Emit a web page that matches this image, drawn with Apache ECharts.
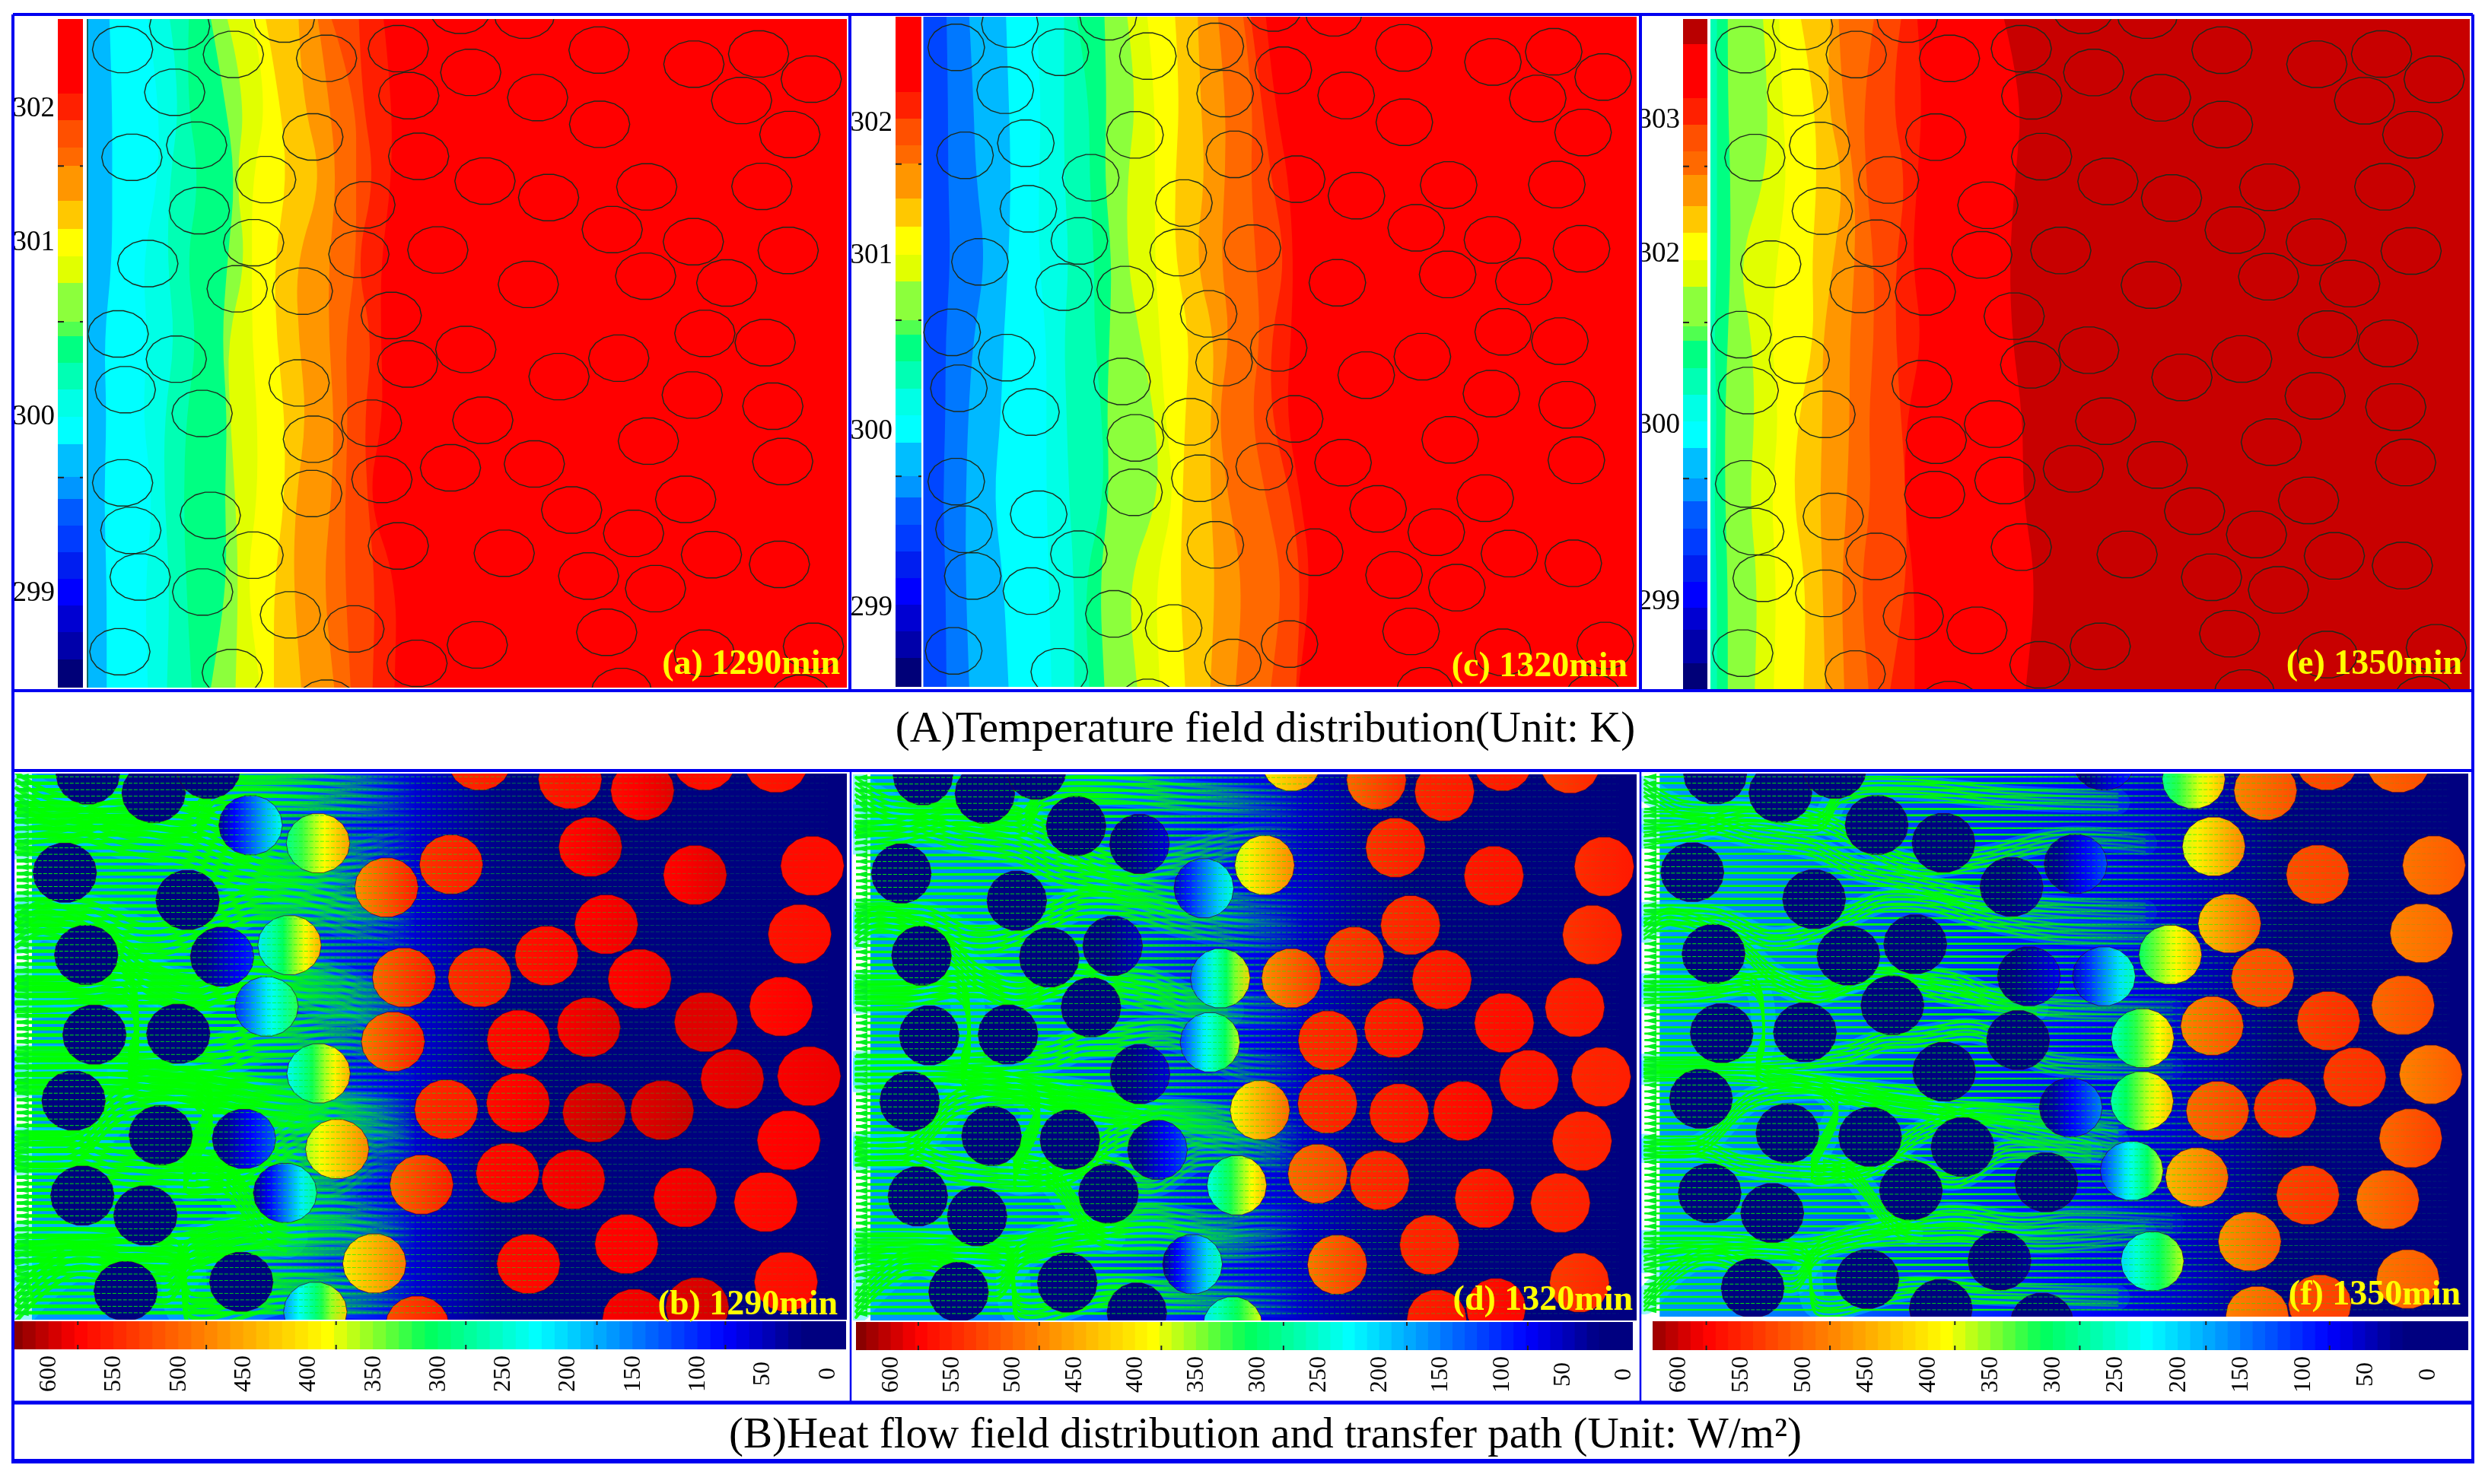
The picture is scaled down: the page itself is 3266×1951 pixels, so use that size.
<!DOCTYPE html>
<html><head><meta charset="utf-8">
<style>html,body{margin:0;padding:0;background:#fff}#c{width:3266px;height:1951px}</style>
<script src="https://cdn.jsdelivr.net/npm/echarts@6/dist/echarts.min.js"></script>
</head><body><div id="c"></div>
<script>
// ---------- DATA: temperature panels (read in the crop units of panel a) ----------
const tempCircleX=[224,328,426,519,596,727,840,957,1093,1266,1384,1480,1353,1441,1094,981,859,746,319,359,241,571,764,485,885,1001,1180,1390,666,364,1117,463,1265,1438,270,655,799,1178,1326,433,552,964,714,216,322,1286,1396,850,744,1129,1020,229,546,1263,1410,369,678,881,572,1183,975,1428,224,697,822,569,1251,384,1043,239,1156,727,462,920,1298,1422,1074,256,370,1196,530,646,219,1107,871,761,1285,1484,424,1134,1461,596];
const tempCircleY=[103,55,113,40,121,101,22,32,104,133,112,164,208,278,257,202,150,198,191,300,325,283,323,371,374,408,386,385,423,435,474,501,499,517,544,525,516,570,584,596,601,587,651,689,741,688,707,721,751,739,777,804,790,815,838,853,873,867,906,910,957,952,996,989,965,1018,1030,1063,1052,1094,1100,1126,1145,1141,1144,1164,1188,1190,1221,1214,1268,1297,1344,1304,1330,1368,1347,1333,1387,1426,1440,1450];
const contourRows=[40,200,370,540,700,860,1030,1200,1418];
const bandPalette=['#0046FF','#0078FF','#00B9FF','#00FFFF','#00FFE6','#00FFB4','#00FF82','#8CFF3C','#E1FF00','#FFFF00','#FFC800','#FF9600','#FF6900','#FF4600','#FF1E00','#FF0000','#C80000'];
const contoursA=[
[200,205,205,205,190,195,190,195,195],[270,290,290,260,270,260,280,265,270],[310,330,310,305,320,300,300,310,305],
[345,340,365,340,360,340,335,340,350],[385,410,430,415,405,415,410,415,385],[415,450,430,450,415,420,430,435,430],
[460,490,460,460,460,470,470,450,475],[485,510,525,500,505,520,520,500,500],[545,550,590,540,545,560,540,535,550],
[580,600,615,600,600,610,605,590,610],[605,650,650,650,630,635,630,630,640],[655,660,685,650,680,665,670,685,680],[700,715,715,695,695,700,670,725,720]];
const contoursC=[
[187,190,190,195,185,185,180,185,187],[232,240,245,265,240,230,225,225,232],[305,310,315,310,300,295,280,300,310],
[365,375,370,370,385,385,385,390,395],[420,420,420,430,420,425,430,440,440],[445,470,470,480,480,495,500,460,470],
[500,505,500,515,510,505,510,490,500],[545,565,545,545,570,600,610,545,565],[585,600,600,600,610,620,640,600,610],
[640,650,640,640,670,660,655,650,660],[685,690,700,680,720,710,710,720,710],[725,740,740,730,750,725,745,775,760],
[775,795,790,800,810,790,820,855,830],[790,810,830,860,830,830,870,890,880],[820,835,865,875,870,860,890,910,885]];
const contoursE=[
[150,150,150,150,145,150,145,150,150],[170,170,175,175,170,165,165,170,170],[235,245,240,190,215,220,210,225,220],
[265,270,280,260,250,265,250,260,255],[305,330,335,325,330,300,290,315,310],[360,350,385,365,345,345,340,345,350],
[375,380,405,405,395,395,390,380,385],[440,420,425,440,440,430,435,415,430],[490,470,500,480,480,490,500,500,470],
[520,530,520,510,530,500,495,515,515],[680,715,700,690,695,715,715,740,720]];
const tempBarColors=['#FF0000','#FF2000','#FF5000','#FF6900','#FF9600','#FFC800','#FFFF00','#E1FF00','#8CFF3C','#50FF50','#00FF82','#00FFB4','#00FFE6','#00FFFF','#00BEFF','#0096FF','#005AFF','#003CFF','#001EF0','#0000FF','#0000D2','#0000AA','#000078'];
const tempBarEdges=[40,195,250,305,343,415,473,530,585,665,695,750,805,860,917,985,1030,1085,1140,1195,1250,1305,1360,1418];
const tempBarColorsE=['#B90000','#FF0000','#FF2000','#FF5000','#FF6900','#FF9600','#FFC800','#FFFF00','#E1FF00','#8CFF3C','#50FF50','#00FF82','#00FFB4','#00FFE6','#00FFFF','#00BEFF','#0096FF','#005AFF','#003CFF','#001EF0','#0000FF','#0000D2','#0000AA','#000078'];
const tempBarEdgesE=[40,93,203,258,313,361,425,481,536,591,673,703,758,813,868,923,985,1033,1089,1144,1199,1252,1297,1366,1418];
const tempBarMarks=[343,664,985];
const tempLabelsA={226:'302',501:'301',861:'300',1224:'299'};
const tempLabelsC={259:'302',532:'301',893:'300',1256:'299'};
const tempLabelsE={249:'303',523:'302',876:'300',1238:'299'};

// ---------- DATA: heat-flow panels (read in the crop units of panel b) ----------
const fluxCircleX=[160,280,380,457,580,118,342,705,823,1040,1172,1077,1268,1482,1416,1285,875,157,405,528,737,875,997,1106,1167,1459,486,172,325,717,946,1074,1288,1425,581,134,814,945,1084,1208,1336,1476,293,445,615,1439,150,265,520,769,926,1046,1250,1397,1143,683,964,440,229,1434,575,761,1157,1272];
const fluxCircleY=[30,70,18,140,179,243,302,275,225,40,65,187,248,228,5,0,0,421,425,400,470,470,423,355,473,376,533,594,592,609,605,578,567,533,678,737,756,742,763,758,690,684,812,820,842,823,943,986,937,919,894,908,947,957,1048,1090,1091,1130,1150,1130,1195,1225,1210,1185];
const circleFluxB=[[0,5],[0,5],[0,5],[30,230],[280,460],[0,5],[0,5],[470,560],[540,560],[560,570],[570,590],[570,590],[575,590],[570,570],[560,570],[570,570],[550,560],[0,5],[0,100],[210,450],[500,560],[545,560],[565,575],[575,585],[575,585],[565,570],[100,320],[0,5],[0,5],[490,560],[570,580],[580,590],[590,590],[570,580],[220,450],[0,5],[545,560],[570,585],[590,600],[590,600],[585,590],[580,585],[0,5],[0,130],[360,480],[575,580],[0,5],[0,5],[10,280],[500,560],[570,580],[580,585],[580,585],[570,575],[575,580],[400,490],[570,575],[0,5],[0,5],[565,570],[160,420],[520,560],[580,585],[590,595]];
const circleFluxD=[[0,5],[0,5],[0,5],[0,5],[0,60],[0,5],[0,5],[50,240],[370,480],[500,550],[550,560],[540,560],[560,565],[545,560],[530,550],[555,560],[400,470],[0,5],[0,5],[0,50],[130,420],[470,540],[530,550],[545,555],[555,565],[540,555],[0,5],[0,5],[0,5],[110,370],[545,555],[555,565],[565,570],[555,560],[0,60],[0,5],[390,500],[545,555],[555,565],[565,575],[560,565],[550,555],[0,5],[0,5],[0,120],[550,555],[0,5],[0,5],[0,5],[230,440],[500,530],[545,555],[555,565],[550,555],[550,555],[20,260],[490,540],[0,5],[0,5],[535,550],[0,5],[210,380],[555,565],[565,575]];
const circleFluxF=[[0,5],[0,5],[0,5],[0,5],[0,5],[0,5],[0,5],[0,40],[0,120],[280,440],[480,520],[370,480],[520,530],[490,510],[500,520],[520,530],[0,100],[0,5],[0,5],[0,5],[0,70],[50,260],[300,450],[430,510],[510,525],[480,500],[0,5],[0,5],[0,5],[0,5],[250,430],[480,520],[530,545],[500,520],[0,5],[0,5],[0,150],[260,440],[500,530],[540,550],[535,545],[480,510],[0,5],[0,5],[0,5],[500,530],[0,5],[0,5],[0,5],[0,5],[100,370],[440,500],[530,540],[490,520],[470,510],[0,30],[200,370],[0,5],[0,5],[490,510],[0,5],[0,5],[480,510],[520,530]];
const bgX=[58,200,400,500,600,700,800,900,1000,1100,1200,1545];
const bgFluxB=[165,160,135,115,92,72,48,25,12,5,0,0];
const bgFluxD=[165,160,140,125,108,90,72,52,32,12,0,0];
const bgFluxF=[165,155,135,120,108,96,85,72,58,38,8,0];
const flowRows=[35,49,63,77,91,105,119,133,147,161,175,189,203,217,231,245,259,273,287,301,315,329,343,357,371,385,399,413,427,441,455,469,483,497,511,525,539,553,567,581,595,609,623,637,651,665,679,693,707,721,735,749,763,777,791,805,819,833,847,861,875,889,903,917,931,945,959,973,987,1001,1015,1029,1043,1057,1071,1085,1099,1113,1127,1141,1155,1169,1183,1197];
const flowRoutes=[
[[30,130],[140,135],[230,165],[340,190],[420,235],[520,265],[640,300],[780,320],[950,330]],
[[30,165],[120,150],[220,120],[350,135],[395,70],[520,60],[700,80],[900,90]],
[[30,335],[160,340],[270,390],[400,340],[470,305],[560,310],[660,345],[800,375],[1000,380]],
[[30,510],[130,505],[260,480],[340,510],[440,472],[590,480],[680,520],[800,540],[1000,545]],
[[30,665],[100,665],[250,660],[400,640],[470,610],[530,605],[640,590],[780,660],[1000,670]],
[[30,840],[130,840],[225,740],[330,715],[430,730],[500,750],[600,760],[720,770],[900,790]],
[[30,850],[130,845],[210,880],[340,900],[440,890],[540,810],[660,770],[900,830]],
[[30,1050],[150,1050],[320,1062],[430,1030],[590,990],[720,1010],[820,1000],[1000,1010]],
[[30,1180],[140,1080],[300,1140],[350,1070],[430,1040],[520,1030]],
[[30,490],[120,490],[230,490],[250,600],[240,680],[330,702],[440,720],[560,740]],
[[30,680],[200,680],[330,702],[440,740],[540,760],[680,800],[850,850]],
[[360,880],[410,900],[500,1020],[620,1030],[760,1050],[950,1030]],
[[30,1090],[120,1070],[320,1075],[350,1190],[520,1150],[650,1160],[900,1170]],
[[30,60],[100,105],[215,110],[340,125],[520,225],[640,215],[800,170],[950,180]],
[[30,370],[80,340],[200,400],[270,470],[350,500],[450,470],[600,510],[750,540]],
[[360,720],[385,760],[340,900],[470,870],[600,910],[700,850],[900,860]]
];
const strandOffsets=[-2,-1,0,1,2];
const fluxStops=[[628,[130,0,0]],[578,[255,0,0]],[479,[255,130,0]],[385,[255,255,0]],[308,[0,255,90]],[224,[0,255,255]],[79,[0,0,255]],[20,[0,0,128]],[-40,[0,0,128]]];
const fluxLevels=[630,620,610,600,590,580,570,560,550,540,530,520,510,500,490,480,470,460,450,440,430,420,410,400,390,380,370,360,350,340,330,320,310,300,290,280,270,260,250,240,230,220,210,200,190,180,170,160,150,140,130,120,110,100,90,80,70,60,50,40,30,20,10,0,-10,-20,-30,-40];
const fluxTickLabels=[600,550,500,450,400,350,300,250,200,150,100,50,0];
const fluxBarTicks=[578,479,379,279,178,79];

const topPanels=[
 {field:[115,25,998,879],bar:[76,33],contours:contoursA,base:2,readLeft:160,k:1,colors:tempBarColors,edges:tempBarEdges,labels:tempLabelsA,caption:'(a) 1290min',capX:1104,capY:874},
 {field:[1213.5,22,937.5,881],bar:[1177,34],contours:contoursC,base:0,readLeft:141,k:1385/1414,colors:tempBarColors,edges:tempBarEdges,labels:tempLabelsC,caption:'(c) 1320min',capX:2139,capY:877},
 {field:[2248,25,998,881],bar:[2212,32],contours:contoursE,base:5,readLeft:138,k:1385/1402,colors:tempBarColorsE,edges:tempBarEdgesE,labels:tempLabelsE,caption:'(e) 1350min',capX:3236,capY:874}
];
const bottomPanels=[
 {grid:[17.5,1017,1095.5,718],bar:[17,1737,1095,37],barRange:[628,-14],circleFlux:circleFluxB,bg:bgFluxB,xEnd:760,routeW:12,rowW:4.6,caption:'(b) 1290min',capX:1101,capY:1716},
 {grid:[1121,1018,1030,718],bar:[1125,1738,1021,37],barRange:[629,-7],circleFlux:circleFluxD,bg:bgFluxD,xEnd:900,routeW:9,rowW:3.4,caption:'(d) 1320min',capX:2146,capY:1710},
 {grid:[2157,1017,1087,714],bar:[2172,1737,1072,38],barRange:[621,-32],circleFlux:circleFluxF,bg:bgFluxF,xEnd:1100,routeW:6.5,rowW:2.6,caption:'(f) 1350min',capX:3234,capY:1703}
];

// ---------- helpers ----------
const SERIF='"Liberation Serif","Times New Roman",serif';
function fluxRGB(v){
  for(let i=0;i<fluxStops.length-1;i++){
    const [a,ca]=fluxStops[i],[b,cb]=fluxStops[i+1];
    if(v<=a&&v>=b){const t=(a-v)/(a-b);return ca.map((c,j)=>Math.round(c+(cb[j]-c)*t));}
  }
  return v>628?fluxStops[0][1]:[0,0,128];
}
const fluxColor=v=>'rgb('+fluxRGB(v).join(',')+')';
function ring(cx,cy,rx,ry,api){
  const pts=[];
  for(let i=0;i<18;i++){const a=i/18*Math.PI*2;pts.push(api.coord([cx+rx*Math.cos(a),cy+ry*Math.sin(a)]));}
  return pts;
}
const grid=[],xAxis=[],yAxis=[],series=[],graphic=[];
function addGrid(rect,x,y){
  grid.push({left:rect[0],top:rect[1],width:rect[2],height:rect[3],containLabel:false,show:false});
  xAxis.push(Object.assign({type:'value',gridIndex:grid.length-1,show:false,scale:true},x));
  yAxis.push(Object.assign({type:'value',gridIndex:grid.length-1,show:false,inverse:true,scale:true},y));
  return grid.length-1;
}
function custom(idx,data,renderItem,extra){
  series.push(Object.assign({type:'custom',xAxisIndex:idx,yAxisIndex:idx,data,renderItem,clip:true,silent:true,animation:false,progressive:0},extra||{}));
}
const idxData=n=>Array.from({length:n},(_,i)=>[i,0]);

// ---------- top panels ----------
topPanels.forEach(p=>{
  const g=addGrid(p.field,{min:160,max:1545},{min:40,max:1418});
  const toAxis=x=>160+(x-p.readLeft)*p.k;
  custom(g,[[0,0]],(params,api)=>{
    const a=api.coord([160,40]),b=api.coord([1545,1418]);
    return {type:'rect',shape:{x:a[0],y:a[1],width:b[0]-a[0],height:b[1]-a[1]},style:{fill:bandPalette[p.base]}};
  });
  custom(g,idxData(p.contours.length),(params,api)=>{
    const i=api.value(0),xs=p.contours[i];
    const pts=xs.map((x,j)=>api.coord([toAxis(x),contourRows[j]]));
    const right=api.coord([1545,40])[0];
    let d='M'+pts[0][0]+' '+pts[0][1];
    for(let j=1;j<pts.length-1;j++){
      const mx=(pts[j][0]+pts[j+1][0])/2,my=(pts[j][1]+pts[j+1][1])/2;
      d+=' Q'+pts[j][0]+' '+pts[j][1]+' '+mx+' '+my;
    }
    d+=' L'+pts[pts.length-1][0]+' '+pts[pts.length-1][1]+' L'+right+' '+pts[pts.length-1][1]+' L'+right+' '+pts[0][1]+' Z';
    return {type:'path',shape:{pathData:d},style:{fill:bandPalette[p.base+1+i]}};
  });
  custom(g,idxData(tempCircleX.length),(params,api)=>{
    const i=api.value(0);
    return {type:'polygon',shape:{points:ring(tempCircleX[i],tempCircleY[i],55,48.5,api)},style:{fill:'none',stroke:'#1c2a1c',lineWidth:1.4}};
  });
  // colour bar
  const bg=addGrid([p.bar[0],p.field[1],p.bar[1],p.field[3]],{min:0,max:1},{
    min:40,max:1418,show:true,axisLine:{show:false},axisTick:{show:false},splitLine:{show:false},
    axisLabel:{show:true,customValues:Object.keys(p.labels).map(Number),formatter:v=>p.labels[v],margin:4,color:'#000',fontFamily:SERIF,fontSize:37}
  });
  custom(bg,idxData(p.colors.length),(params,api)=>{
    const i=api.value(0),a=api.coord([0,p.edges[i]]),b=api.coord([1,p.edges[i+1]]);
    return {type:'rect',shape:{x:a[0],y:Math.floor(a[1]),width:b[0]-a[0],height:Math.ceil(b[1]-a[1])+1},style:{fill:p.colors[i]}};
  });
  custom(bg,idxData(tempBarMarks.length),(params,api)=>{
    const y=api.coord([0,tempBarMarks[api.value(0)]])[1],l=api.coord([0,0])[0],r=api.coord([1,0])[0];
    return {type:'group',children:[
      {type:'line',shape:{x1:l,y1:y,x2:l+8,y2:y},style:{stroke:'#222',lineWidth:2}},
      {type:'line',shape:{x1:r-4,y1:y,x2:r,y2:y},style:{stroke:'#222',lineWidth:2}}]};
  });
  graphic.push({type:'text',z:50,style:{text:p.caption,x:p.capX,y:p.capY,fill:'#FFFF00',font:'bold 46px '+SERIF,textAlign:'right',textVerticalAlign:'middle'}});
});

// ---------- bottom panels ----------
bottomPanels.forEach(p=>{
  const g=addGrid(p.grid,{min:24,max:1545},{min:28,max:1212});
  custom(g,[[0,0]],(params,api)=>{
    const a=api.coord([58,28]),b=api.coord([1545,1212]);
    const stops=bgX.map((x,i)=>({offset:(x-58)/(1545-58),color:fluxColor(p.bg[i])}));
    return {type:'rect',shape:{x:a[0],y:a[1],width:b[0]-a[0],height:b[1]-a[1]},style:{fill:new echarts.graphic.LinearGradient(0,0,1,0,stops)}};
  });
  const fade=(api,rgb,a0)=>{
    const x0=api.coord([24,0])[0],x1=api.coord([p.xEnd,0])[0];
    return new echarts.graphic.LinearGradient(x0,0,x1,0,[
      {offset:0,color:`rgba(${rgb},${a0})`},{offset:.55,color:`rgba(${rgb},${a0})`},{offset:1,color:`rgba(${rgb},0)`}],true);
  };
  // cyan halo of the flow bundles
  custom(g,idxData(flowRoutes.length),(params,api)=>{
    const r=flowRoutes[api.value(0)].map(q=>api.coord(q));
    return {type:'polyline',shape:{points:r,smooth:.35},style:{fill:'none',stroke:fade(api,'0,225,255',.4),lineWidth:p.routeW*5,lineCap:'round'}};
  });
  // thick arrow rows, hidden by the cold inclusions drawn afterwards
  custom(g,idxData(flowRows.length),(params,api)=>{
    const y=flowRows[api.value(0)],a=api.coord([30,y]),b=api.coord([p.xEnd,y]);
    return {type:'line',shape:{x1:a[0],y1:a[1],x2:b[0],y2:b[1]},style:{stroke:fade(api,'0,255,0',1),lineWidth:p.rowW}};
  });
  // each flow bundle is drawn as a few parallel strands
  custom(g,idxData(flowRoutes.length*strandOffsets.length),(params,api)=>{
    const n=api.value(0),route=flowRoutes[Math.floor(n/strandOffsets.length)],off=strandOffsets[n%strandOffsets.length];
    const r=route.map(q=>{const c=api.coord(q);return [c[0],c[1]+off*p.routeW*.85];});
    return {type:'polyline',shape:{points:r,smooth:.35},style:{fill:'none',stroke:fade(api,'0,255,0',.9),lineWidth:p.routeW*.45,lineCap:'round'}};
  });
  // inclusions
  custom(g,idxData(fluxCircleX.length),(params,api)=>{
    const i=api.value(0),[l,r]=p.circleFlux[i];
    const stops=[0,.25,.4,.5,.6,.75,1].map(o=>({offset:o,color:fluxColor(l+(r-l)*o)}));
    return {type:'polygon',shape:{points:ring(fluxCircleX[i],fluxCircleY[i],58,65,api)},
      style:{fill:new echarts.graphic.LinearGradient(0,0,1,0,stops),stroke:'rgba(60,0,40,.7)',lineWidth:1}};
  });
  // thin arrow rows over everything
  custom(g,idxData(flowRows.length),(params,api)=>{
    const y=flowRows[api.value(0)],a=api.coord([30,y]),b=api.coord([1510,y]);
    const stroke=new echarts.graphic.LinearGradient(a[0],0,b[0],0,[
      {offset:0,color:'rgba(0,255,0,.95)'},{offset:(p.xEnd-30)/1480,color:'rgba(0,255,0,.6)'},{offset:1,color:'rgba(0,200,60,.1)'}],true);
    return {type:'line',shape:{x1:a[0],y1:a[1],x2:b[0],y2:b[1]},style:{stroke,lineWidth:1,lineDash:[5,2]}};
  });
  // arrow heads in the white inlet strip
  custom(g,idxData(flowRows.length),(params,api)=>{
    const y=flowRows[api.value(0)];
    return {type:'polygon',shape:{points:[api.coord([30,y]),api.coord([52,y-7]),api.coord([52,y+7])]},style:{fill:'#00EE22'}};
  });
  // colour bar
  const bi=addGrid(p.bar,{
    min:p.barRange[1],max:p.barRange[0],inverse:true,show:true,position:'bottom',axisLine:{show:false},axisTick:{show:false},splitLine:{show:false},
    axisLabel:{show:true,customValues:fluxTickLabels,rotate:90,align:'center',verticalAlign:'middle',margin:32,color:'#000',fontFamily:SERIF,fontSize:32,hideOverlap:false,showMinLabel:true,showMaxLabel:true}
  },{min:0,max:1});
  custom(bi,idxData(fluxLevels.length-1),(params,api)=>{
    const i=api.value(0),a=api.coord([fluxLevels[i],0]),b=api.coord([fluxLevels[i+1],1]);
    return {type:'rect',shape:{x:a[0]-1,y:a[1],width:b[0]-a[0]+2,height:b[1]-a[1]},style:{fill:fluxColor((fluxLevels[i]+fluxLevels[i+1])/2)}};
  });
  custom(bi,idxData(fluxBarTicks.length),(params,api)=>{
    const x=api.coord([fluxBarTicks[api.value(0)],0])[0],t=api.coord([0,0])[1],b=api.coord([0,1])[1];
    const y0=Math.min(t,b),y1=Math.max(t,b);
    return {type:'group',children:[
      {type:'line',shape:{x1:x,y1:y0,x2:x,y2:y0+5},style:{stroke:'#222',lineWidth:2}},
      {type:'line',shape:{x1:x,y1:y1-6,x2:x,y2:y1},style:{stroke:'#222',lineWidth:2}}]};
  },{z:3});
  graphic.push({type:'text',z:50,style:{text:p.caption,x:p.capX,y:p.capY,fill:'#FFFF00',font:'bold 46px '+SERIF,textAlign:'right',textVerticalAlign:'middle'}});
});

// ---------- frames & titles ----------
const BLUE='#0000F0';
const hv=(x1,y1,x2,y2,w)=>graphic.push({type:'line',z:40,shape:{x1,y1,x2,y2},style:{stroke:BLUE,lineWidth:w}});
hv(17,19,3250,19,4);hv(15,908,3250,908,4);hv(17,1013,3250,1013,4);hv(17,1844,3250,1844,5);hv(15,1921,3252,1921,6);
hv(17,19,17,1921,4);hv(3250,19,3250,1921,4);
hv(1117,19,1117,908,4);hv(2156,19,2156,908,4);hv(1118,1013,1118,1844,2.5);hv(2156,1013,2156,1844,2.5);
graphic.push({type:'line',z:30,shape:{x1:115,y1:25,x2:115,y2:904},style:{stroke:'#106868',lineWidth:2}});
graphic.push({type:'text',z:50,style:{text:'(A)Temperature field distribution(Unit: K)',x:1663,y:960,fill:'#000',font:'57px '+SERIF,textAlign:'center',textVerticalAlign:'middle'}});
graphic.push({type:'text',z:50,style:{text:'(B)Heat flow field distribution and transfer path (Unit: W/m²)',x:1663,y:1888,fill:'#000',font:'57px '+SERIF,textAlign:'center',textVerticalAlign:'middle'}});

const chart=echarts.init(document.getElementById('c'),null,{renderer:'canvas'});
chart.setOption({animation:false,backgroundColor:'#fff',grid,xAxis,yAxis,series,graphic});
</script></body></html>
